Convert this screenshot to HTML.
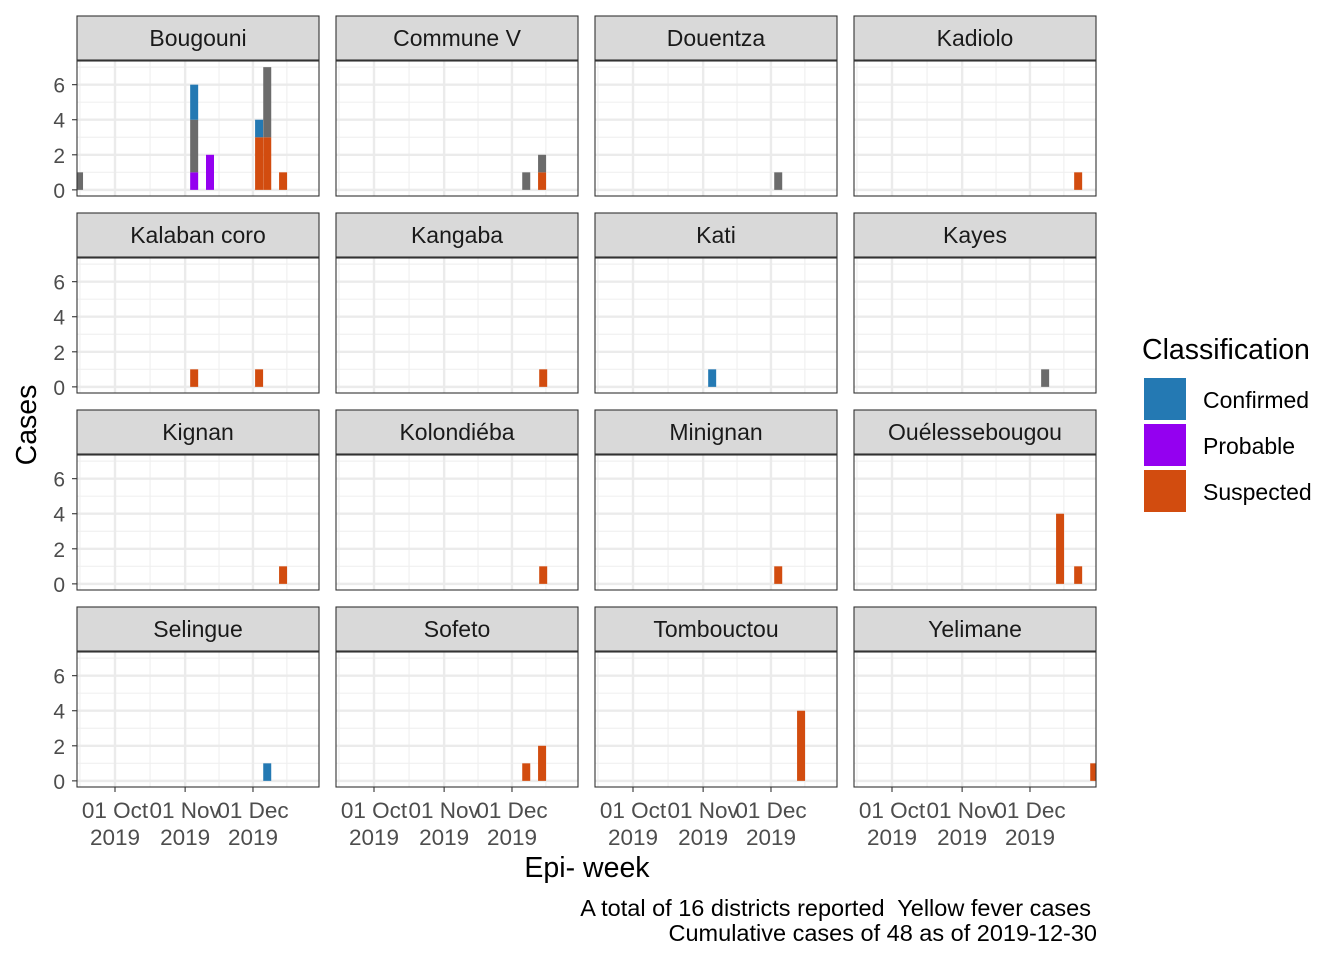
<!DOCTYPE html>
<html><head><meta charset="utf-8"><style>
body{margin:0;background:#fff}
svg text{font-family:"Liberation Sans",Arial,sans-serif}
</style></head><body>
<svg id="chart" width="1344" height="960" xmlns="http://www.w3.org/2000/svg"></svg>
<script>
// Data: days since 2019-10-01 for each bar, per district
const districts = ["Bougouni","Commune V","Douentza","Kadiolo","Kalaban coro","Kangaba","Kati","Kayes","Kignan","Kolondiéba","Minignan","Ouélessebougou","Selingue","Sofeto","Tombouctou","Yelimane"];
const classes = ["Suspected","Probable","Unknown","Confirmed"];
const classColors = ["#D24C0F","#9400F0","#6B6B6B","#2479B3"];
// each bar: district index, day, counts per class
const barDistrict = [0,0,0,0,0,0, 1,1, 2, 3, 4,4, 5, 6, 7, 8, 9, 10, 11,11, 12, 13,13, 14, 15];
const barDay      = [-15.9,35,42,63.7,67.3,74.3, 67.3,74.3, 64.2, 82.3, 35,63.7, 74.8, 35, 67.7, 74.3, 74.8, 64.2, 74.3,82.3, 67.3, 67.3,74.3, 74.3, 89.4];
const barSuspected= [0,0,0,3,3,1, 0,1, 0, 1, 1,1, 1, 0, 0, 1, 1, 1, 4,1, 0, 1,2, 4, 1];
const barProbable = [0,1,2,0,0,0, 0,0, 0, 0, 0,0, 0, 0, 0, 0, 0, 0, 0,0, 0, 0,0, 0, 0];
const barUnknown  = [1,3,0,0,4,0, 1,1, 1, 0, 0,0, 0, 0, 1, 0, 0, 0, 0,0, 0, 0,0, 0, 0];
const barConfirmed= [0,2,0,1,0,0, 0,0, 0, 0, 0,0, 0, 1, 0, 0, 0, 0, 0,0, 1, 0,0, 0, 0];
const yTicks = [0,2,4,6];
const xTickDays = [0,31,61];
const xTickLabels = ["01 Oct","01 Nov","01 Dec"];

const NS="http://www.w3.org/2000/svg";
const svg=document.getElementById('chart');
function el(t,a,p){const e=document.createElementNS(NS,t);for(const k in a)e.setAttribute(k,a[k]);(p||svg).appendChild(e);return e;}
const colX=[77,336,595,854], PW=242;
const rowStrip=[16,213,410,607], PH=135;
const yMin=-0.35,yMax=7.35;
function xs(c,d){return colX[c]+38+d*2.262;}
function ys(r,v){const top=rowStrip[r]+45;return top+PH-(v-yMin)/(yMax-yMin)*PH;}

districts.forEach((name,i)=>{
  const c=i%4,r=Math.floor(i/4);
  const g=el('g',{});
  
  
  const top=rowStrip[r]+45;
  el('rect',{x:colX[c],y:top,width:PW,height:PH,fill:'#fff'},g);
  for(let v=-1;v<=7;v+=2){if(v<yMin)continue;el('line',{x1:colX[c],x2:colX[c]+PW,y1:ys(r,v),y2:ys(r,v),stroke:'#f0f0f0','stroke-width':1.2},g);}
  [-15.5,15.5,46,76].forEach(d=>el('line',{x1:xs(c,d),x2:xs(c,d),y1:top,y2:top+PH,stroke:'#f0f0f0','stroke-width':1.2},g));
  yTicks.forEach(v=>el('line',{x1:colX[c],x2:colX[c]+PW,y1:ys(r,v),y2:ys(r,v),stroke:'#ebebeb','stroke-width':2.4},g));
  xTickDays.forEach(d=>el('line',{x1:xs(c,d),x2:xs(c,d),y1:top,y2:top+PH,stroke:'#ebebeb','stroke-width':2.4},g));
  const clip=el('clipPath',{id:'clip'+i},g);
  el('rect',{x:colX[c],y:top,width:PW,height:PH},clip);
  const bg=el('g',{'clip-path':'url(#clip'+i+')'},g);
  barDistrict.forEach((di,b)=>{
    if(di!==i)return;
    const vals=[barSuspected[b],barProbable[b],barUnknown[b],barConfirmed[b]];
    let base=0;
    vals.forEach((v,k)=>{
      if(!v)return;
      const rr=el('rect',{x:xs(c,barDay[b])-4,y:ys(r,base+v),width:8,height:ys(r,base)-ys(r,base+v),fill:classColors[k]},bg);
      
      
      base+=v;
    });
  });
  el('rect',{x:colX[c],y:top,width:PW,height:PH,fill:'none',stroke:'#333','stroke-width':1.1},g);
  const s=el('rect',{x:colX[c],y:rowStrip[r],width:PW,height:44,fill:'#d9d9d9',stroke:'#333','stroke-width':1.1},g);
  
  const t=el('text',{x:colX[c]+PW/2,y:rowStrip[r]+30,'font-size':23,'text-anchor':'middle',fill:'#1a1a1a'},g);
  t.textContent=name;
  if(c===0){yTicks.forEach(v=>{
    el('line',{x1:72,x2:77,y1:ys(r,v),y2:ys(r,v),stroke:'#333','stroke-width':1.1},g);
    const tt=el('text',{x:65,y:ys(r,v)+8,'font-size':21,'text-anchor':'end',fill:'#4d4d4d'},g);tt.textContent=v;
  });}
  if(r===3){xTickDays.forEach((d,k)=>{
    el('line',{x1:xs(c,d),x2:xs(c,d),y1:top+PH,y2:top+PH+5,stroke:'#333','stroke-width':1.1},g);
    const t1=el('text',{x:xs(c,d),y:818,'font-size':22.5,'text-anchor':'middle',fill:'#4d4d4d'},g);t1.textContent=xTickLabels[k];
    const t2=el('text',{x:xs(c,d),y:845,'font-size':22.5,'text-anchor':'middle',fill:'#4d4d4d'},g);t2.textContent='2019';
  });}
});
let t=el('text',{x:587,y:877,'font-size':28.5,'text-anchor':'middle',fill:'#000'});t.textContent='Epi- week';

t=el('text',{x:0,y:0,'font-size':28.5,'text-anchor':'middle',fill:'#000',transform:'translate(36,425) rotate(-90)'});t.textContent='Cases';

t=el('text',{x:1142,y:359,'font-size':28.5,fill:'#000'});t.textContent='Classification';

[["Confirmed","#2479B3"],["Probable","#9400F0"],["Suspected","#D24C0F"]].forEach((l,k)=>{
  const y=378+k*46;
  const r=el('rect',{x:1144,y:y,width:42,height:42,fill:l[1]});
  
  const tx=el('text',{x:1203,y:y+30,'font-size':23,fill:'#000'});tx.textContent=l[0];
  
});
t=el('text',{x:1091,y:916,'font-size':23.5,'text-anchor':'end',fill:'#000',style:'white-space:pre'});t.textContent='A total of 16 districts reported  Yellow fever cases';

t=el('text',{x:1097,y:941,'font-size':23.5,'text-anchor':'end',fill:'#000'});t.textContent='Cumulative cases of 48 as of 2019-12-30';

</script>
</body></html>
